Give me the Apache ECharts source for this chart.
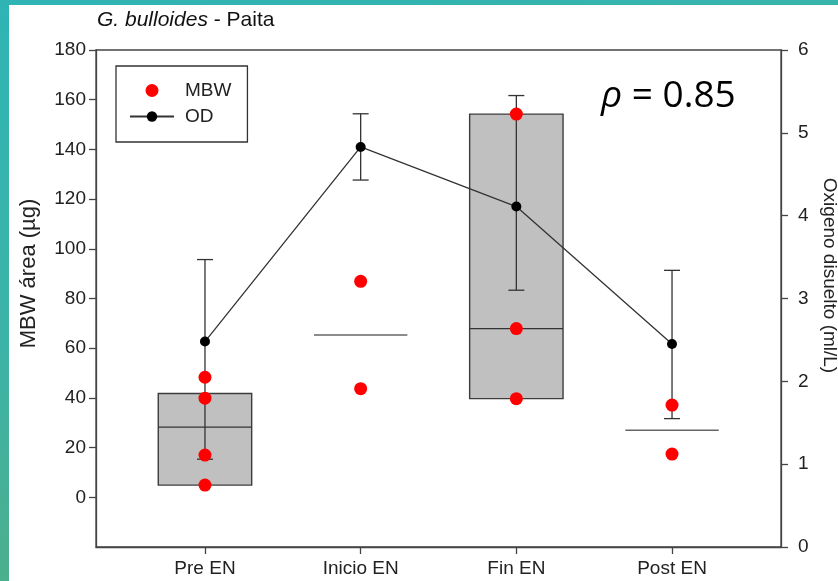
<!DOCTYPE html>
<html><head><meta charset="utf-8">
<script src="https://cdn.jsdelivr.net/npm/echarts@6/dist/echarts.min.js"></script>
<style>
html,body{margin:0;padding:0;width:838px;height:581px;overflow:hidden;}
body{background:linear-gradient(165deg,#2fb4b4 0%,#3db3a6 45%,#5aa972 100%);position:relative;}
#panel{position:absolute;left:9px;top:5px;right:0;bottom:0;background:#fff;}
#chart{position:absolute;left:0;top:0;width:838px;height:581px;}
</style></head><body><div id="panel"></div><div id="chart"></div>
<script>
// ---- data ----
const categories = ['Pre EN', 'Inicio EN', 'Fin EN', 'Post EN'];
const catPositions = [1, 2, 3, 4];
const mbwPre = [48.3, 39.9, 17.0, 4.9];
const mbwInicio = [86.9, 43.7];
const mbwFin = [154.2, 67.9, 39.7];
const mbwPost = [37.1, 17.4];
const boxLow = [4.9, 65.3, 39.7, 27.0];
const boxMedian = [28.2, 65.3, 67.9, 27.0];
const boxHigh = [41.8, 65.3, 154.2, 27.0];
const odMean = [2.48, 4.83, 4.11, 2.45];
const odLow = [1.06, 4.43, 3.10, 1.55];
const odHigh = [3.47, 5.23, 5.45, 3.34];
const leftTicks = [0, 20, 40, 60, 80, 100, 120, 140, 160, 180];
const rightTicks = [0, 1, 2, 3, 4, 5, 6];

// ---- build ----
const mbwGroups = [mbwPre, mbwInicio, mbwFin, mbwPost];
const mbwData = [];
mbwGroups.forEach((g, i) => g.forEach(v => mbwData.push([catPositions[i], v])));
const boxData = catPositions.map((x, i) => [x, boxLow[i], boxMedian[i], boxHigh[i]]);
const odData = catPositions.map((x, i) => [x, odMean[i]]);
const errData = catPositions.map((x, i) => [x, odLow[i], odHigh[i]]);

const FONT = '"Liberation Sans", Arial, sans-serif';
const chart = echarts.init(document.getElementById('chart'), null, {renderer: 'canvas'});
const HALF = 0.3;

chart.setOption({
  animation: false,
  textStyle: {fontFamily: FONT},
  title: [{
    left: 92, top: 5,
    text: '{it|G. bulloides}{n| - Paita}',
    textStyle: {fontWeight: 'normal', rich: {
      it: {fontFamily: FONT, fontStyle: 'italic', fontWeight: 'normal', fontSize: 21, color: '#111'},
      n: {fontFamily: FONT, fontWeight: 'normal', fontSize: 21, color: '#111'}
    }}
  }, {
    left: 596, top: 73,
    text: '{r|ρ}{n| = 0.85}',
    textStyle: {fontWeight: 'normal', rich: {
      r: {fontFamily: '"Open Sans", "Noto Sans", sans-serif', fontStyle: 'italic', fontWeight: 'normal', fontSize: 37, color: '#000'},
      n: {fontFamily: '"Open Sans", "Noto Sans", sans-serif', fontWeight: 'normal', fontSize: 37, color: '#000'}
    }}
  }],
  legend: {
    orient: 'vertical',
    left: 116, top: 66,
    padding: [15, 16, 16, 13],
    borderColor: '#333', borderWidth: 1.3,
    itemWidth: 44, itemHeight: 13, itemGap: 7,
    textStyle: {fontSize: 19, color: '#222', fontFamily: FONT, padding: [0, 0, 0, 6]},
    data: ['MBW', 'OD']
  },
  grid: {left: 96, right: 57, top: 50, bottom: 34, outerBoundsMode: 'none', containLabel: false,
    show: true, borderColor: '#444', borderWidth: 1.3, backgroundColor: 'transparent'},
  xAxis: {
    type: 'value', min: 0.3, max: 4.7,
    splitLine: {show: false},
    axisLine: {onZero: false, lineStyle: {color: '#444', width: 1.3}},
    axisTick: {show: true, length: 7, lineStyle: {color: '#444', width: 1.3}, customValues: catPositions},
    axisLabel: {customValues: catPositions, margin: 12, fontSize: 19, color: '#222',
      formatter: v => categories[catPositions.indexOf(Math.round(v))] || ''}
  },
  yAxis: [{
    type: 'value', min: -20, max: 180, interval: 20, position: 'left',
    name: 'MBW área (µg)', nameLocation: 'middle', nameRotate: 90, nameGap: 56,
    nameTextStyle: {fontSize: 22, color: '#222', padding: [0, 0, 0, 50]},
    splitLine: {show: false},
    axisLine: {show: true, onZero: false, lineStyle: {color: '#444', width: 1.3}},
    axisTick: {show: true, length: 7, lineStyle: {color: '#444', width: 1.3}, customValues: leftTicks},
    axisLabel: {customValues: leftTicks, margin: 10, fontSize: 19, color: '#222'}
  }, {
    type: 'value', min: 0, max: 6, interval: 1, position: 'right',
    name: 'Oxigeno disuelto (ml/L)', nameLocation: 'middle', nameRotate: -90, nameGap: 32,
    nameTextStyle: {fontSize: 19, color: '#222', padding: [0, 46, 0, 0]},
    splitLine: {show: false},
    axisLine: {show: true, onZero: false, lineStyle: {color: '#444', width: 1.3}},
    axisTick: {show: true, length: 7, lineStyle: {color: '#444', width: 1.3}, customValues: rightTicks},
    axisLabel: {customValues: rightTicks, margin: 17, fontSize: 19, color: '#222'}
  }],
  series: [{
    type: 'custom', name: 'box', xAxisIndex: 0, yAxisIndex: 0, z: 1,
    data: boxData,
    renderItem: (params, api) => {
      const x = api.value(0), lo = api.value(1), med = api.value(2), hi = api.value(3);
      const pl = api.coord([x - HALF, lo]);
      const ph = api.coord([x + HALF, hi]);
      const ml = api.coord([x - HALF, med]);
      const mr = api.coord([x + HALF, med]);
      const children = [];
      if (hi > lo) {
        children.push({type: 'rect', shape: {x: pl[0], y: ph[1], width: ph[0] - pl[0], height: pl[1] - ph[1]},
          style: {fill: '#c0c0c0', stroke: '#3c3c3c', lineWidth: 1.4}});
        children.push({type: 'line', shape: {x1: ml[0], y1: ml[1], x2: mr[0], y2: mr[1]},
          style: {stroke: '#333', lineWidth: 1.3}});
      } else {
        children.push({type: 'line', shape: {x1: ml[0], y1: ml[1], x2: mr[0], y2: mr[1]},
          style: {stroke: '#666', lineWidth: 1.6}});
      }
      return {type: 'group', children};
    }
  }, {
    type: 'custom', name: 'err', xAxisIndex: 0, yAxisIndex: 1, z: 3,
    data: errData,
    renderItem: (params, api) => {
      const x = api.value(0);
      const lo = api.coord([x, api.value(1)]);
      const hi = api.coord([x, api.value(2)]);
      const st = {stroke: '#333', lineWidth: 1.3};
      return {type: 'group', children: [
        {type: 'line', shape: {x1: lo[0], y1: lo[1], x2: hi[0], y2: hi[1]}, style: st},
        {type: 'line', shape: {x1: lo[0] - 8, y1: lo[1], x2: lo[0] + 8, y2: lo[1]}, style: st},
        {type: 'line', shape: {x1: hi[0] - 8, y1: hi[1], x2: hi[0] + 8, y2: hi[1]}, style: st}
      ]};
    }
  }, {
    type: 'line', name: 'OD', xAxisIndex: 0, yAxisIndex: 1, z: 4,
    data: odData,
    symbol: 'circle', symbolSize: 10,
    itemStyle: {color: '#000'},
    lineStyle: {color: '#333', width: 1.3}
  }, {
    type: 'scatter', name: 'MBW', xAxisIndex: 0, yAxisIndex: 0, z: 5,
    data: mbwData,
    symbol: 'circle', symbolSize: 13,
    itemStyle: {color: '#ff0000', opacity: 1}
  }]
});
</script></body></html>
